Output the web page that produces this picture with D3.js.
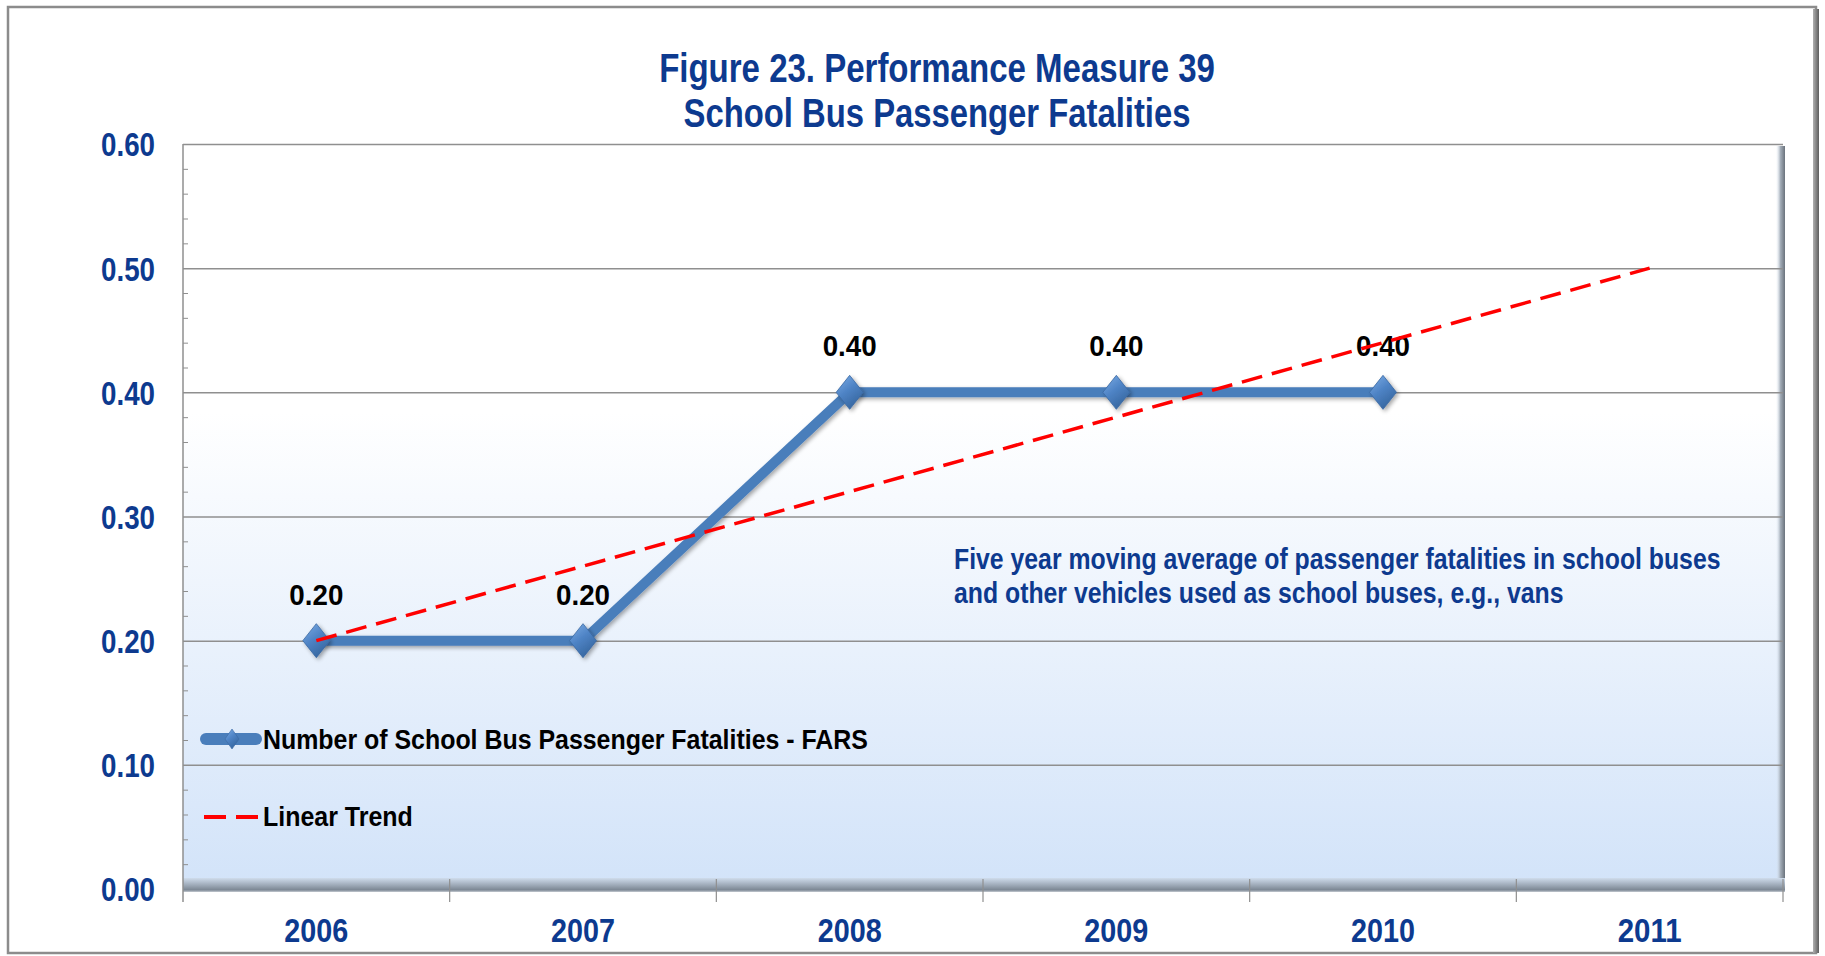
<!DOCTYPE html>
<html>
<head>
<meta charset="utf-8">
<script src="https://cdn.jsdelivr.net/npm/d3@7/dist/d3.min.js"></script>
<style>
  html, body { margin: 0; padding: 0; background: #ffffff; }
  svg { display: block; }
  text { font-family: "Liberation Sans Narrow", "Arial Narrow", "Liberation Sans", Arial, sans-serif; font-weight: bold; }
</style>
</head>
<body>
<svg id="chart" width="1825" height="956"></svg>
<script>
// Chart data
const years = ["2006", "2007", "2008", "2009", "2010", "2011"];
const fatalities = [0.20, 0.20, 0.40, 0.40, 0.40];          // 2006–2010
const trend = [0.20, 0.26, 0.32, 0.38, 0.44, 0.50];          // linear trend, 2006–2011
const yTicks = [0.00, 0.10, 0.20, 0.30, 0.40, 0.50, 0.60];
const titleLines = ["Figure 23. Performance Measure 39", "School Bus Passenger Fatalities"];
const noteLines = ["Five year moving average of passenger fatalities in school buses",
                   "and other vehicles used as school buses, e.g., vans"];
const legendLabels = ["Number of School Bus Passenger Fatalities - FARS", "Linear Trend"];

const svg = d3.select("#chart");
const plot = { left: 183, right: 1783, top: 144, bottom: 889 };
const blue = "#0d3a8f";

const x = d3.scaleBand().domain(years).range([plot.left, plot.right]).padding(0);
const cx = d => x(d) + x.bandwidth() / 2;
const y = d3.scaleLinear().domain([0, 0.6]).range([plot.bottom, plot.top]);

// Condense a text horizontally to a target width, keeping its anchor point fixed
function fitWidth(sel, target) {
  sel.each(function (d, i) {
    const t = d3.select(this);
    const w = typeof target === "function" ? target(d, i) : target;
    const natural = this.getComputedTextLength();
    const s = w / natural;
    const ax = +t.attr("x") || 0;
    t.attr("transform", `translate(${ax * (1 - s)},0) scale(${s},1)`);
  });
}

const defs = svg.append("defs");
const bg = defs.append("linearGradient").attr("id", "plotFill").attr("x1", 0).attr("y1", 0).attr("x2", 0).attr("y2", 1);
bg.append("stop").attr("offset", "0%").attr("stop-color", "#ffffff");
bg.append("stop").attr("offset", "36%").attr("stop-color", "#ffffff");
bg.append("stop").attr("offset", "100%").attr("stop-color", "#d2e3f9");

const floor = defs.append("linearGradient").attr("id", "floorFill").attr("x1", 0).attr("y1", 0).attr("x2", 0).attr("y2", 1);
floor.append("stop").attr("offset", "0%").attr("stop-color", "#cfdcec");
floor.append("stop").attr("offset", "55%").attr("stop-color", "#9aa6b4");
floor.append("stop").attr("offset", "85%").attr("stop-color", "#7c8794");
floor.append("stop").attr("offset", "100%").attr("stop-color", "#c4cad1");

const side = defs.append("linearGradient").attr("id", "sideFill").attr("x1", 0).attr("y1", 0).attr("x2", 1).attr("y2", 0);
side.append("stop").attr("offset", "0%").attr("stop-color", "#dde7f3").attr("stop-opacity", 0);
side.append("stop").attr("offset", "50%").attr("stop-color", "#a2acb7");
side.append("stop").attr("offset", "100%").attr("stop-color", "#6a727c");

const frameSide = defs.append("linearGradient").attr("id", "frameSide").attr("x1", 0).attr("y1", 0).attr("x2", 1).attr("y2", 0);
frameSide.append("stop").attr("offset", "0%").attr("stop-color", "#b0b0b0");
frameSide.append("stop").attr("offset", "100%").attr("stop-color", "#5e5e5e");

const dia = defs.append("linearGradient").attr("id", "diaFill").attr("x1", 0).attr("y1", 0).attr("x2", 0.6).attr("y2", 1);
dia.append("stop").attr("offset", "0%").attr("stop-color", "#7eaee6");
dia.append("stop").attr("offset", "50%").attr("stop-color", "#4f84c6");
dia.append("stop").attr("offset", "100%").attr("stop-color", "#36669f");

const shadow = defs.append("filter").attr("id", "soft").attr("x", "-50%").attr("y", "-50%").attr("width", "200%").attr("height", "200%");
shadow.append("feGaussianBlur").attr("in", "SourceAlpha").attr("stdDeviation", 2);
shadow.append("feOffset").attr("dx", 1.5).attr("dy", 2).attr("result", "off");
shadow.append("feComponentTransfer").append("feFuncA").attr("type", "linear").attr("slope", 0.35);
const merge = shadow.append("feMerge");
merge.append("feMergeNode");
merge.append("feMergeNode").attr("in", "SourceGraphic");

// Outer frame
svg.append("rect").attr("x", 8).attr("y", 7).attr("width", 1808).attr("height", 946)
  .attr("fill", "#ffffff").attr("stroke", "#8c8c8c").attr("stroke-width", 2.5);
svg.append("rect").attr("x", 1813).attr("y", 9).attr("width", 6).attr("height", 944).attr("fill", "url(#frameSide)");

// Plot area with bevelled floor and right edge
svg.append("rect").attr("x", plot.left).attr("y", plot.top)
  .attr("width", plot.right - plot.left).attr("height", plot.bottom - plot.top).attr("fill", "url(#plotFill)");
svg.append("rect").attr("x", plot.right - 7).attr("y", plot.top + 2)
  .attr("width", 9).attr("height", plot.bottom - plot.top + 1).attr("fill", "url(#sideFill)");
svg.append("rect").attr("x", plot.left).attr("y", plot.bottom - 11)
  .attr("width", plot.right - plot.left + 2).attr("height", 14).attr("fill", "url(#floorFill)");

// Horizontal gridlines
svg.append("g").attr("transform", `translate(${plot.left},0)`)
  .call(d3.axisLeft(y).tickValues(yTicks.slice(1)).tickSize(-(plot.right - plot.left)).tickFormat(""))
  .call(g => g.select(".domain").remove())
  .call(g => g.selectAll("line").attr("stroke", "#8f8f8f").attr("stroke-width", 1.5));

// Minor ticks (inward) on the value axis
const minor = d3.range(1, 30).map(i => i * 0.02).filter(v => Math.abs(v * 10 - Math.round(v * 10)) > 1e-6);
svg.append("g").attr("transform", `translate(${plot.left},0)`)
  .call(d3.axisLeft(y).tickValues(minor).tickSize(-5).tickFormat(""))
  .call(g => g.select(".domain").remove())
  .call(g => g.selectAll("line").attr("stroke", "#8f8f8f").attr("stroke-width", 1));

// Value axis line
svg.append("line").attr("x1", plot.left).attr("x2", plot.left)
  .attr("y1", plot.top).attr("y2", plot.bottom + 13).attr("stroke", "#8f8f8f").attr("stroke-width", 1.5);

// Value axis labels
svg.append("g").attr("transform", `translate(155,0)`)
  .call(d3.axisLeft(y).tickValues(yTicks).tickSize(0).tickPadding(0).tickFormat(d3.format(".2f")))
  .call(g => g.select(".domain").remove())
  .call(g => g.selectAll("text")
    .attr("fill", blue).attr("font-size", 33).attr("dy", "0.36em")
    .call(fitWidth, 54));

// Category boundary ticks
const bounds = years.map(d => x(d)).concat([plot.right]);
svg.append("g").selectAll("line").data(bounds.slice(1)).join("line")
  .attr("x1", d => d).attr("x2", d => d)
  .attr("y1", plot.bottom - 10).attr("y2", plot.bottom + 13)
  .attr("stroke", "#8f8f8f").attr("stroke-width", 1.2);

// Category labels
svg.append("g").attr("transform", `translate(0,${plot.bottom})`)
  .call(d3.axisBottom(x).tickSize(0).tickPadding(0))
  .call(g => g.select(".domain").remove())
  .call(g => g.selectAll("text")
    .attr("fill", blue).attr("font-size", 34).attr("y", 53).attr("dy", 0)
    .call(fitWidth, 64));

// Title
svg.append("g").selectAll("text").data(titleLines).join("text")
  .attr("x", 937).attr("y", (d, i) => 82 + i * 45)
  .attr("text-anchor", "middle").attr("fill", blue).attr("font-size", 40)
  .text(d => d)
  .call(fitWidth, (d, i) => [556, 507][i]);

// Series line
const seriesData = fatalities.map((v, i) => ({ year: years[i], value: v }));
const line = d3.line().x(d => cx(d.year)).y(d => y(d.value));
svg.append("path").datum(seriesData)
  .attr("d", line).attr("fill", "none").attr("stroke", "#4a7ebb")
  .attr("stroke-width", 10).attr("stroke-linejoin", "round").attr("filter", "url(#soft)");

// Diamond markers
const diamond = (w, h) => `M0,${-h} L${w},0 L0,${h} L${-w},0 Z`;
svg.append("g").selectAll("path").data(seriesData).join("path")
  .attr("transform", d => `translate(${cx(d.year)},${y(d.value)})`)
  .attr("d", diamond(13.5, 17)).attr("fill", "url(#diaFill)")
  .attr("stroke", "#3a68a2").attr("stroke-width", 0.8).attr("filter", "url(#soft)");

// Value labels
svg.append("g").selectAll("text").data(seriesData).join("text")
  .attr("x", d => cx(d.year)).attr("y", d => y(d.value) - 36)
  .attr("text-anchor", "middle").attr("fill", "#000000").attr("font-size", 30)
  .text(d => d3.format(".2f")(d.value))
  .call(fitWidth, 54);

// Linear trend (drawn on top)
const trendData = trend.map((v, i) => ({ year: years[i], value: v }));
svg.append("path").datum(trendData)
  .attr("d", line).attr("fill", "none").attr("stroke", "#ff0000")
  .attr("stroke-width", 3.5).attr("stroke-dasharray", "21,10");

// Annotation
svg.append("g").selectAll("text").data(noteLines).join("text")
  .attr("x", 954).attr("y", (d, i) => 569 + i * 34)
  .attr("fill", blue).attr("font-size", 30)
  .text(d => d)
  .call(fitWidth, (d, i) => [767, 610][i]);

// Legend
const lg = svg.append("g");
lg.append("line").attr("x1", 206).attr("x2", 256).attr("y1", 739).attr("y2", 739)
  .attr("stroke", "#4a7ebb").attr("stroke-width", 12).attr("stroke-linecap", "round");
lg.append("path").attr("transform", "translate(232,739)").attr("d", diamond(7, 10))
  .attr("fill", "url(#diaFill)").attr("stroke", "#3a68a2").attr("stroke-width", 0.6);
lg.append("line").attr("x1", 204).attr("x2", 258).attr("y1", 817).attr("y2", 817)
  .attr("stroke", "#ff0000").attr("stroke-width", 4).attr("stroke-dasharray", "22,10");
lg.selectAll("text").data(legendLabels).join("text")
  .attr("x", 263).attr("y", (d, i) => [749, 826][i])
  .attr("fill", "#000000").attr("font-size", 28)
  .text(d => d)
  .call(fitWidth, (d, i) => [605, 150][i]);
</script>
</body>
</html>
